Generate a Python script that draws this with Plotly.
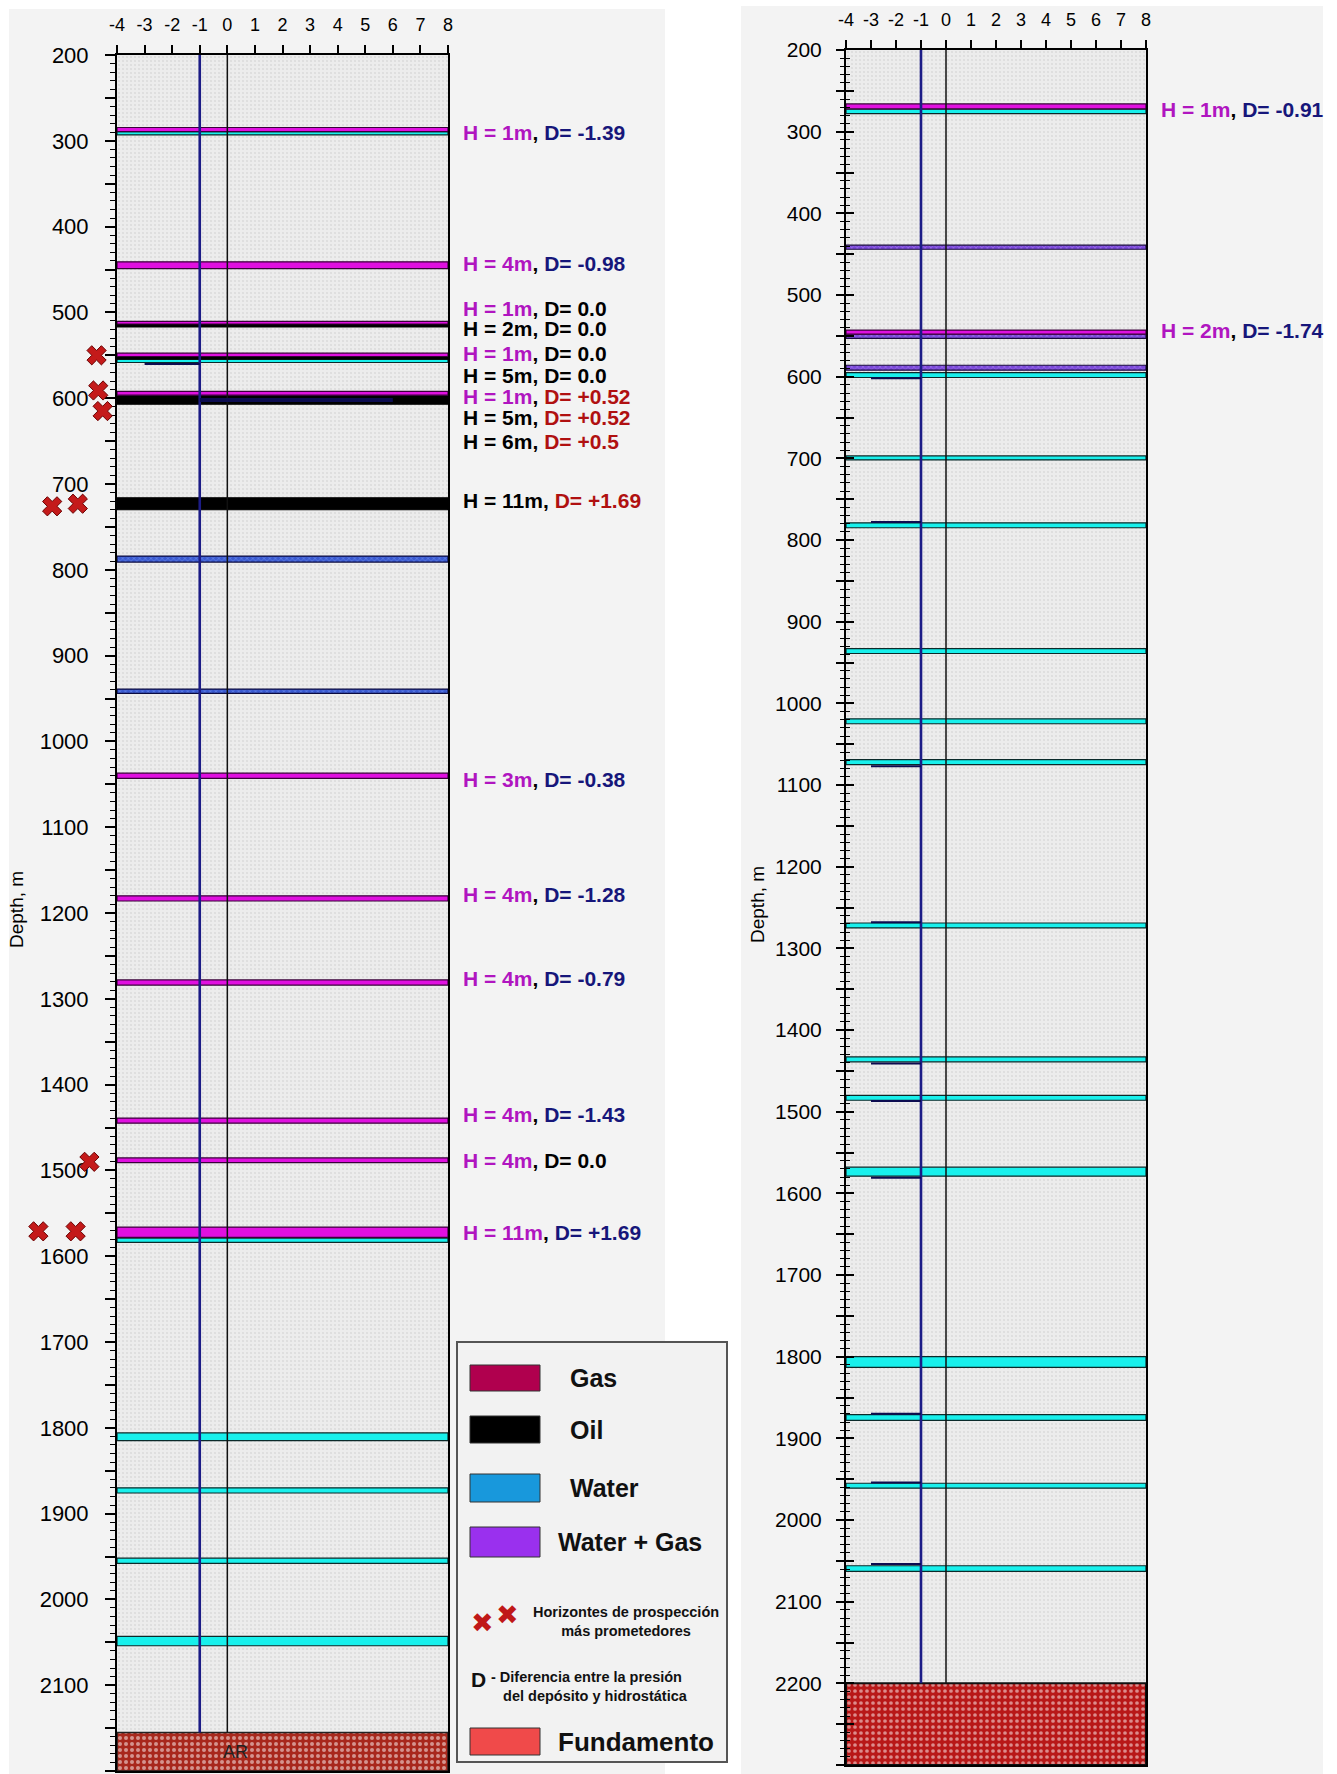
import plotly.graph_objects as go

W, H = 1337, 1774
FONT = "Arial, Liberation Sans, sans-serif"

# ---------------- data: left well ----------------
X_MIN, X_MAX = -4, 8
X_TICKS = list(range(-4, 9))
L_DEPTH_RANGE = [200, 2200]
L_gas_top = [284.5, 441, 510.5, 547.5, 592, 1037, 1180, 1278, 1439, 1485.5, 1566]
L_gas_bot = [289.3, 449, 513.5, 551.4, 596.5, 1043, 1186, 1284, 1445, 1491, 1578]
L_oil_top = [513.5, 551.4, 596.5, 716]
L_oil_bot = [517, 554.5, 607, 730]
L_water_top = [289.3, 554.5, 1579, 1806, 1870, 1952, 2043]
L_water_bot = [293.2, 558.4, 1584, 1815, 1876, 1958, 2054]
L_wg_top = [784, 939]
L_wg_bot = [791, 944]
L_base_top, L_base_bot = [2155], [2200]
L_mark_depth = [560, 602]
L_mark_x0 = [-3, -1]
L_mark_x1 = [-1, 6]
L_x_marker_x = [-4.74, -4.68, -4.52, -6.35, -5.42, -5.0, -6.85, -5.5]
L_x_marker_d = [550, 591, 615, 726, 723, 1490, 1571, 1571]

L_label_depth = [290, 443.5, 496, 518.5, 548, 573, 598, 623, 650, 719,
                 1044, 1179, 1276.5, 1435, 1488, 1572.5]
L_label_H = ["1m", "4m", "1m", "2m", "1m", "5m", "1m", "5m", "6m", "11m",
             "3m", "4m", "4m", "4m", "4m", "11m"]
L_label_D = ["-1.39", "-0.98", "0.0", "0.0", "0.0", "0.0", "+0.52", "+0.52", "+0.5", "+1.69",
             "-0.38", "-1.28", "-0.79", "-1.43", "0.0", "+1.69"]
L_label_fluid = ["gas", "gas", "gas", "oil", "gas", "oil", "gas", "oil", "oil", "oil",
                 "gas", "gas", "gas", "gas", "gas", "gas"]

# ---------------- data: right well ----------------
R_DEPTH_RANGE = [200, 2300]
R_gas_top = [266, 543]
R_gas_bot = [272, 548]
R_water_top = [272.5, 595, 697, 779, 933, 1019, 1069, 1269, 1433, 1480, 1568, 1800, 1871, 1955, 2056]
R_water_bot = [278, 601, 702, 785, 939, 1025, 1075, 1275, 1439, 1486, 1579, 1813, 1878, 1961, 2063]
R_wg_top = [439, 548, 586]
R_wg_bot = [444, 553, 592]
R_base_top, R_base_bot = [2200], [2300]
R_mark_depth = [602, 778, 1077, 1268, 1441, 1487, 1581, 1870, 1954, 2054]
R_mark_x0 = [-3] * 10
R_mark_x1 = [-1] * 10
R_label_depth = [273, 543]
R_label_H = ["1m", "2m"]
R_label_D = ["-0.91", "-1.74"]

# ---------------- styles ----------------
C_GAS = "#e010e0"
C_OIL = "#000000"
C_WATER = "#18f0ec"
C_WG_L = "#3a5ad0"
C_WG_R = "#7a48d8"
C_NAVY = "#1c1c86"
H_GAS = "#b015c0"
D_NEG = "#16167a"
D_POS = "#b01010"

# pixel geometry of the two plot areas
LX0, LX1, LY0, LY1 = 117, 448, 55, 1771
RX0, RX1, RY0, RY1 = 846, 1146, 50, 1765

fig = go.Figure()


def band(tops, bots, xa, ya, color, lcolor, lw=1.2, pattern=None):
    ys = [(t + b) / 2 for t, b in zip(tops, bots)]
    ws = [b - t for t, b in zip(tops, bots)]
    n = len(tops)
    m = dict(color=color, line=dict(color=lcolor, width=lw))
    if pattern:
        m["pattern"] = pattern
    fig.add_trace(go.Bar(orientation="h", y=ys, x=[X_MAX - X_MIN] * n, base=[X_MIN] * n,
                         width=ws, marker=m, xaxis=xa, yaxis=ya, showlegend=False,
                         hoverinfo="skip"))


def vlines(drange, bottom, xa, ya):
    fig.add_trace(go.Scatter(x=[-1, -1], y=[drange[0], bottom], mode="lines",
                             line=dict(color=C_NAVY, width=2.6), xaxis=xa, yaxis=ya,
                             showlegend=False, hoverinfo="skip"))
    fig.add_trace(go.Scatter(x=[0, 0], y=[drange[0], bottom], mode="lines",
                             line=dict(color="#111111", width=1.5), xaxis=xa, yaxis=ya,
                             showlegend=False, hoverinfo="skip"))


def marks(depths, x0s, x1s, widths, xa, ya):
    for d, a, b, w in zip(depths, x0s, x1s, widths):
        fig.add_trace(go.Scatter(x=[a, b], y=[d, d], mode="lines",
                                 line=dict(color="#0c0c50", width=w), xaxis=xa, yaxis=ya,
                                 showlegend=False, hoverinfo="skip"))


STIPPLE = dict(shape=".", fgcolor="#c9c9c9", bgcolor="#ececec", size=4, solidity=0.22)

# left well
band([L_DEPTH_RANGE[0]], L_base_top, "x", "y", "#ececec", "rgba(0,0,0,0)", lw=0, pattern=STIPPLE)
vlines(L_DEPTH_RANGE, L_base_top[0], "x", "y")
band(L_wg_top, L_wg_bot, "x", "y", C_WG_L, "#0a0a40",
     pattern=dict(shape="x", fgcolor="#8fb0ff", bgcolor=C_WG_L, size=4, solidity=0.3))
band(L_water_top, L_water_bot, "x", "y", C_WATER, "#0b2a2a")
band(L_oil_top, L_oil_bot, "x", "y", C_OIL, "#000000")
band(L_gas_top, L_gas_bot, "x", "y", C_GAS, "#3a003a")
band(L_base_top, L_base_bot, "x", "y", "#a8281c", "#222222", lw=1.5,
     pattern=dict(shape=".", fgcolor="#ffffff", bgcolor="#a8281c", size=6, solidity=0.35))
marks(L_mark_depth, L_mark_x0, L_mark_x1, [2, 4], "x", "y")
# prospect markers live in the left margin: an invisible x axis continuing the same scale
fig.add_trace(go.Scatter(x=L_x_marker_x, y=L_x_marker_d, mode="markers",
                         marker=dict(symbol="x", size=17, color="#c41a1a",
                                     line=dict(color="#6a0000", width=1)),
                         xaxis="x3", yaxis="y", showlegend=False, hoverinfo="skip"))

# right well
band([R_DEPTH_RANGE[0]], R_base_top, "x2", "y2", "#ececec", "rgba(0,0,0,0)", lw=0, pattern=STIPPLE)
vlines(R_DEPTH_RANGE, R_base_top[0], "x2", "y2")
band(R_wg_top, R_wg_bot, "x2", "y2", C_WG_R, "#1a0a40",
     pattern=dict(shape="x", fgcolor="#c0a0ff", bgcolor=C_WG_R, size=4, solidity=0.3))
band(R_water_top, R_water_bot, "x2", "y2", C_WATER, "#0b2a2a")
band(R_gas_top, R_gas_bot, "x2", "y2", C_GAS, "#3a003a")
band(R_base_top, R_base_bot, "x2", "y2", "#c41a1a", "#111111", lw=2,
     pattern=dict(shape=".", fgcolor="#ffffff", bgcolor="#b81818", size=6, solidity=0.3))
marks(R_mark_depth, R_mark_x0, R_mark_x1, [2] * len(R_mark_depth), "x2", "y2")
# dummy trace for crossing-tick overlay axis
fig.add_trace(go.Scatter(x=[X_MIN], y=[R_DEPTH_RANGE[0]], mode="markers", marker=dict(opacity=0),
                         xaxis="x2", yaxis="y3", showlegend=False, hoverinfo="skip"))

# ---------------- labels ----------------
anns = []


def xdom(v):
    return (v - X_MIN) / (X_MAX - X_MIN)


def hd_label(depth, h, d, fluid, dcol, xa, ya, x, size):
    hcol = H_GAS if fluid == "gas" else "#000000"
    txt = (f"<b><span style='color:{hcol}'>H = {h}</span>, "
           f"<span style='color:{dcol}'>D= {d}</span></b>")
    anns.append(dict(x=xdom(x), y=depth, xref=f"{xa} domain", yref=ya, text=txt, showarrow=False,
                     xanchor="left", yanchor="middle", borderpad=0,
                     font=dict(family=FONT, size=size, color="#000")))


for dep, h, d, fl in zip(L_label_depth, L_label_H, L_label_D, L_label_fluid):
    if d.startswith("-"):
        dc = D_NEG
    elif d == "0.0":
        dc = "#000000"
    else:
        dc = D_POS if dep < 1000 else D_NEG
    hd_label(dep, h, d, fl, dc, "x", "y", 8.5, 21)
for dep, h, d in zip(R_label_depth, R_label_H, R_label_D):
    hd_label(dep, h, d, "gas", D_NEG, "x2", "y2", 8.55, 21)

anns.append(dict(x=xdom(0.3), y=(L_base_top[0] + L_base_bot[0]) / 2, xref="x domain", yref="y",
                 text="AR", showarrow=False, font=dict(family=FONT, size=18, color="#222")))

# axis titles
anns.append(dict(x=17 / W, y=1 - 910 / H, xref="paper", yref="paper", text="Depth, m",
                 textangle=-90, showarrow=False, xanchor="center", yanchor="middle",
                 font=dict(family=FONT, size=19, color="#000")))
anns.append(dict(x=758 / W, y=1 - 905 / H, xref="paper", yref="paper", text="Depth, m",
                 textangle=-90, showarrow=False, xanchor="center", yanchor="middle",
                 font=dict(family=FONT, size=19, color="#000")))


def px_x(v):
    return v / W


def px_y(v):
    return 1 - v / H


shapes = []
# panel backgrounds
shapes.append(dict(type="rect", xref="paper", yref="paper", x0=px_x(9), x1=px_x(665),
                   y0=px_y(1774), y1=px_y(9), fillcolor="#f3f3f3", line=dict(width=0), layer="below"))
shapes.append(dict(type="rect", xref="paper", yref="paper", x0=px_x(741), x1=px_x(1323),
                   y0=px_y(1774), y1=px_y(6), fillcolor="#f3f3f3", line=dict(width=0), layer="below"))
# plot-area fill
for xa, ya in (("x", "y"), ("x2", "y2")):
    shapes.append(dict(type="rect", xref=f"{xa} domain", yref=f"{ya} domain", x0=0, x1=1, y0=0, y1=1,
                       fillcolor="#e8e8e8", line=dict(width=0), layer="below"))

# legend box
shapes.append(dict(type="rect", xref="paper", yref="paper", x0=px_x(457), x1=px_x(727),
                   y0=px_y(1762), y1=px_y(1342), fillcolor="#f2f2f2",
                   line=dict(color="#555555", width=2), layer="above"))
legend_items = [("Gas", "#b0004e", 1365, 1391, 568, 25),
                ("Oil", "#000000", 1416, 1443, 568, 25),
                ("Water", "#1898dc", 1474, 1502, 568, 25),
                ("Water + Gas", "#9a30ee", 1527, 1557, 556, 25),
                ("Fundamento", "#f04a4a", 1728, 1755, 556, 26)]
for name, col, y0, y1, tx, fs in legend_items:
    shapes.append(dict(type="rect", xref="paper", yref="paper", x0=px_x(470), x1=px_x(540),
                       y0=px_y(y1), y1=px_y(y0), fillcolor=col,
                       line=dict(color="#333333", width=1), layer="above"))
    anns.append(dict(x=px_x(tx), y=px_y((y0 + y1) / 2), xref="paper", yref="paper",
                     text=f"<b>{name}</b>", showarrow=False, xanchor="left", yanchor="middle",
                     font=dict(family=FONT, size=fs, color="#111")))

for mx, my in ((482, 1622), (508, 1614)):
    anns.append(dict(x=px_x(mx), y=px_y(my), xref="paper", yref="paper", text="✖",
                     showarrow=False, xanchor="center", yanchor="middle",
                     font=dict(family="DejaVu Sans", size=27, color="#c01818")))
anns.append(dict(x=px_x(626), y=px_y(1621), xref="paper", yref="paper",
                 text="<b>Horizontes de prospección<br>más prometedores</b>", showarrow=False,
                 align="center", xanchor="center", yanchor="middle",
                 font=dict(family=FONT, size=14.5, color="#111")))
anns.append(dict(x=px_x(478), y=px_y(1679), xref="paper", yref="paper", text="<b>D</b>",
                 showarrow=False, xanchor="center", yanchor="middle",
                 font=dict(family=FONT, size=21, color="#111")))
anns.append(dict(x=px_x(489), y=px_y(1686), xref="paper", yref="paper",
                 text="<b>- Diferencia entre la presión<br>   del depósito y hidrostática</b>",
                 showarrow=False, xanchor="left", yanchor="middle", align="left",
                 font=dict(family=FONT, size=14.5, color="#111")))


def yticks(r):
    vals = list(range(r[0], r[1] + 1, 50))
    txt = [str(v) if v % 100 == 0 else "" for v in vals]
    return vals, txt


lv, lt = yticks(L_DEPTH_RANGE)
rv, rt = yticks(R_DEPTH_RANGE)

xcommon = dict(range=[X_MIN, X_MAX], side="top", tickmode="array", tickvals=X_TICKS,
               ticktext=[str(v) for v in X_TICKS],
               ticks="outside", ticklen=8, tickwidth=1.5, tickcolor="#000", showline=True,
               linecolor="#000", linewidth=2, mirror=True, showgrid=False, zeroline=False,
               tickfont=dict(family=FONT, size=18, color="#000"), ticklabelstandoff=7,
               automargin=False, fixedrange=True)

px_per_unit = (LX1 - LX0) / (X_MAX - X_MIN)

fig.update_layout(
    width=W, height=H, margin=dict(l=0, r=0, t=0, b=0, pad=0, autoexpand=False),
    paper_bgcolor="#ffffff", plot_bgcolor="rgba(0,0,0,0)", barmode="overlay",
    showlegend=False,
    xaxis=dict(domain=[LX0 / W, LX1 / W], anchor="y", **xcommon),
    xaxis2=dict(domain=[RX0 / W, RX1 / W], anchor="y2", **xcommon),
    xaxis3=dict(domain=[0, LX0 / W], anchor="y", range=[X_MIN - LX0 / px_per_unit, X_MIN],
                visible=False, automargin=False, fixedrange=True),
    yaxis=dict(domain=[1 - LY1 / H, 1 - LY0 / H], anchor="x", range=[L_DEPTH_RANGE[1], L_DEPTH_RANGE[0]],
               tickmode="array", tickvals=lv, ticktext=lt, ticks="outside", ticklen=10, tickwidth=1.5,
               tickcolor="#000", showline=True, linecolor="#000", linewidth=2, mirror=True,
               showgrid=False, zeroline=False, ticklabelstandoff=12, automargin=False,
               tickfont=dict(family=FONT, size=22, color="#000"),
               minor=dict(tick0=200, dtick=10, ticks="outside", ticklen=5, tickwidth=1.2,
                          tickcolor="#000", showgrid=False)),
    yaxis2=dict(domain=[1 - RY1 / H, 1 - RY0 / H], anchor="x2", range=[R_DEPTH_RANGE[1], R_DEPTH_RANGE[0]],
                tickmode="array", tickvals=rv, ticktext=rt, ticks="outside", ticklen=8, tickwidth=1.5,
                tickcolor="#000", showline=True, linecolor="#000", linewidth=2, mirror=True,
                showgrid=False, zeroline=False, ticklabelstandoff=10, automargin=False,
                tickfont=dict(family=FONT, size=21, color="#000"),
                minor=dict(tick0=200, dtick=10, ticks="outside", ticklen=4, tickwidth=1.2,
                           tickcolor="#000", showgrid=False)),
    yaxis3=dict(overlaying="y2", anchor="x2", range=[R_DEPTH_RANGE[1], R_DEPTH_RANGE[0]],
                tickmode="array", tickvals=rv, ticks="inside", ticklen=8, tickwidth=1.5,
                tickcolor="#000", showticklabels=False, showline=False, showgrid=False,
                zeroline=False, automargin=False,
                minor=dict(tick0=200, dtick=10, ticks="inside", ticklen=4, tickwidth=1.2,
                           tickcolor="#000", showgrid=False)),
    shapes=shapes,
    annotations=anns,
)

fig.write_html("out.html")
